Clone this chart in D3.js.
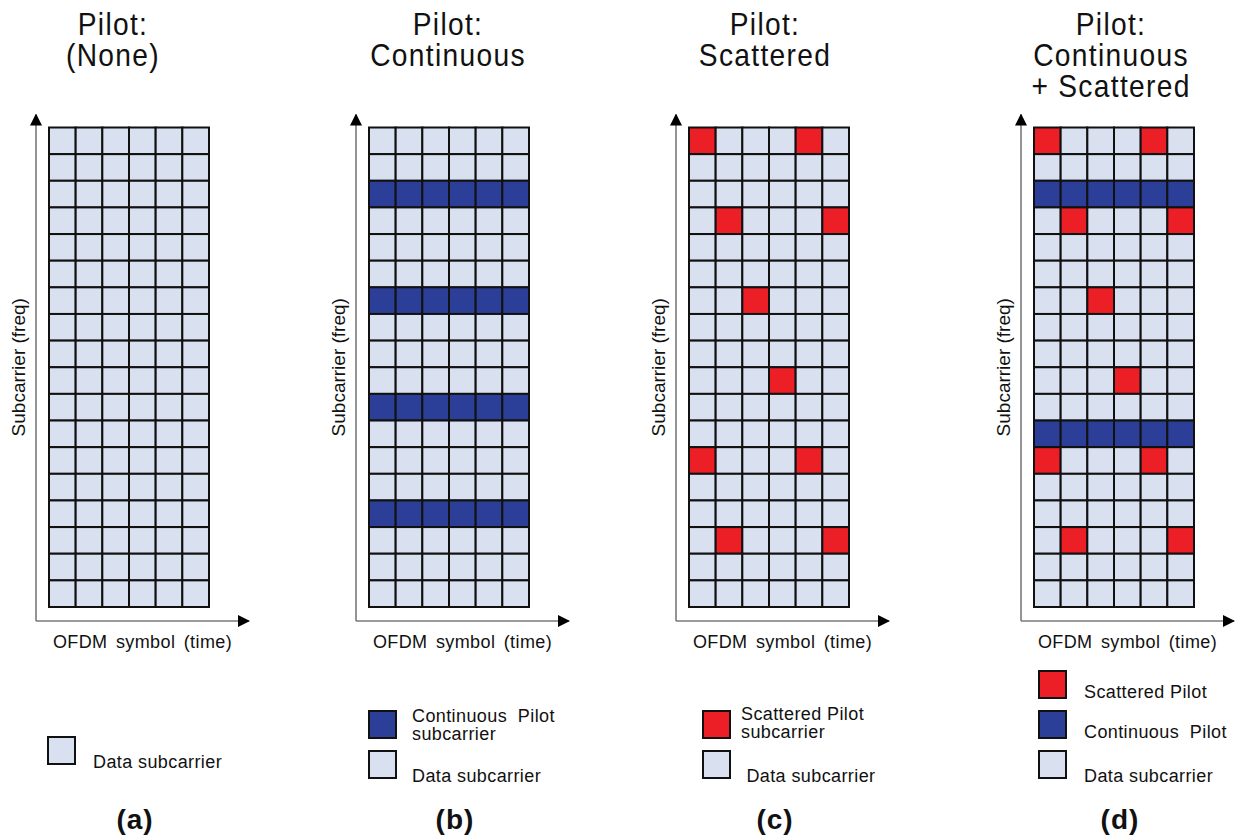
<!DOCTYPE html>
<html>
<head>
<meta charset="utf-8">
<script src="https://cdn.jsdelivr.net/npm/d3@7"></script>
<style>
  body { margin: 0; background: #fff; }
  text { font-family: "Liberation Sans", Arial, sans-serif; fill: #111; }
  .title { font-size: 32px; letter-spacing: 1.5px; }
  .xlab { font-size: 18px; letter-spacing: 0.4px; word-spacing: 3px; }
  .ylab { font-size: 19px; }
  .leg { font-size: 18px; letter-spacing: 0.4px; }
  .panelLab { font-size: 28px; font-weight: bold; letter-spacing: 1px; }
</style>
</head>
<body>
<div id="chart"></div>
<script>
// grid categories
const symbols = [0, 1, 2, 3, 4, 5];                       // OFDM symbols (columns)
const subcarriers = [0, 1, 2, 3, 4, 5, 6, 7, 8, 9, 10, 11, 12, 13, 14, 15, 16, 17]; // rows, top to bottom

// pilot patterns
const continuousRowsB = [2, 6, 10, 14];
const continuousRowsD = [2, 11];
const scatteredRows = [0, 0, 3, 3, 6, 9, 12, 12, 15, 15];
const scatteredCols = [0, 4, 1, 5, 2, 3, 0, 4, 1, 5];

// text
const panelTitles = [
    ['Pilot:', '(None)'],
    ['Pilot:', 'Continuous'],
    ['Pilot:', 'Scattered'],
    ['Pilot:', 'Continuous', '+ Scattered']
];
const panelLabels = ['(a)', '(b)', '(c)', '(d)'];
const xAxisLabel = 'OFDM symbol (time)';
const yAxisLabel = 'Subcarrier (freq)';
const legendItems = [
    [{ kind: 'data', text: ['Data subcarrier'] }],
    [{ kind: 'cont', text: ['Continuous  Pilot', 'subcarrier'] }, { kind: 'data', text: ['Data subcarrier'] }],
    [{ kind: 'scat', text: ['Scattered Pilot', 'subcarrier'] }, { kind: 'data', text: [' Data subcarrier'] }],
    [{ kind: 'scat', text: ['Scattered Pilot'] }, { kind: 'cont', text: ['Continuous  Pilot'] }, { kind: 'data', text: ['Data subcarrier'] }]
];

const colors = { data: '#d9e0ef', cont: '#2c3f98', scat: '#ec1f26' };

// layout (pixels)
const svgWidth = 1235;
const svgHeight = 837;
const gridTop = 127.5;
const gridW = 160;
const gridH = 479.5;
const panelLayout = [
    { gridX: 49, titleX: 113, legX: 48, legTextX: 93, legY: [737], legTextY: [[768]] },
    { gridX: 369, titleX: 448, legX: 369, legTextX: 412, legY: [711, 751], legTextY: [[722, 740], [782]] },
    { gridX: 689, titleX: 765, legX: 703, legTextX: 741, legY: [711, 751], legTextY: [[720, 738], [782]] },
    { gridX: 1034, titleX: 1111, legX: 1039, legTextX: 1084, legY: [671, 711, 751], legTextY: [[698], [738], [782]] }
];

const svg = d3.select('#chart')
    .append('svg')
    .attr('width', svgWidth)
    .attr('height', svgHeight);

const defs = svg.append('defs');
defs.append('marker')
    .attr('id', 'arrow')
    .attr('viewBox', '0 0 12 12')
    .attr('refX', 11)
    .attr('refY', 6)
    .attr('markerWidth', 12)
    .attr('markerHeight', 12)
    .attr('markerUnits', 'userSpaceOnUse')
    .attr('orient', 'auto')
    .append('path')
    .attr('d', 'M0,0 L12,6 L0,12 Z')
    .attr('fill', '#000');

const xScale = d3.scaleBand().domain(symbols).range([0, gridW]);
const yScale = d3.scaleBand().domain(subcarriers).range([0, gridH]);

function cellKind(p, row, col) {
    if (p === 2 || p === 3) {
        for (let i = 0; i < scatteredRows.length; i++) {
            if (scatteredRows[i] === row && scatteredCols[i] === col) return 'scat';
        }
    }
    if (p === 1 && continuousRowsB.includes(row)) return 'cont';
    if (p === 3 && continuousRowsD.includes(row)) return 'cont';
    return 'data';
}

panelLayout.forEach((lay, p) => {
    const g = svg.append('g');

    // title, squeezed a bit to look like a condensed face
    const title = g.append('g')
        .attr('transform', `translate(${lay.titleX}, 0) scale(0.88, 1)`)
        .append('text')
        .attr('class', 'title')
        .attr('text-anchor', 'middle');
    panelTitles[p].forEach((line, i) => {
        title.append('tspan')
            .attr('x', 0)
            .attr('y', 35 + i * 31)
            .text(line);
    });

    // grid cells
    const cells = [];
    subcarriers.forEach(r => symbols.forEach(c => cells.push({ row: r, col: c, kind: cellKind(p, r, c) })));

    const grid = g.append('g').attr('transform', `translate(${lay.gridX}, ${gridTop})`);
    grid.selectAll('rect.cell')
        .data(cells)
        .enter()
        .append('rect')
        .attr('class', 'cell')
        .attr('x', d => xScale(d.col))
        .attr('y', d => yScale(d.row))
        .attr('width', xScale.bandwidth())
        .attr('height', yScale.bandwidth())
        .attr('fill', d => colors[d.kind])
        .attr('stroke', '#111')
        .attr('stroke-width', 2);

    // axes with arrows
    const axX = lay.gridX - 13;
    const axY = gridTop + gridH + 14;
    g.append('line')
        .attr('x1', axX).attr('y1', axY)
        .attr('x2', axX).attr('y2', gridTop - 13)
        .attr('stroke', '#7a7a7a').attr('stroke-width', 1.6)
        .attr('marker-end', 'url(#arrow)');
    g.append('line')
        .attr('x1', axX).attr('y1', axY)
        .attr('x2', lay.gridX + gridW + 40).attr('y2', axY)
        .attr('stroke', '#7a7a7a').attr('stroke-width', 1.6)
        .attr('marker-end', 'url(#arrow)');

    g.append('text')
        .attr('class', 'xlab')
        .attr('x', (axX + lay.gridX + gridW + 40) / 2)
        .attr('y', axY + 27)
        .attr('text-anchor', 'middle')
        .text(xAxisLabel);

    g.append('text')
        .attr('class', 'ylab')
        .attr('transform', `translate(${axX - 11}, ${gridTop + gridH / 2}) rotate(-90)`)
        .attr('text-anchor', 'middle')
        .text(yAxisLabel);

    // legend
    legendItems[p].forEach((item, i) => {
        g.append('rect')
            .attr('x', lay.legX)
            .attr('y', lay.legY[i])
            .attr('width', 27)
            .attr('height', 27)
            .attr('fill', colors[item.kind])
            .attr('stroke', '#111')
            .attr('stroke-width', 2);
        item.text.forEach((line, j) => {
            g.append('text')
                .attr('class', 'leg')
                .attr('x', lay.legTextX)
                .attr('y', lay.legTextY[i][j])
                .style('white-space', 'pre')
                .text(line);
        });
    });

    g.append('text')
        .attr('class', 'panelLab')
        .attr('x', lay.gridX + gridW / 2 + 6)
        .attr('y', 829)
        .attr('text-anchor', 'middle')
        .text(panelLabels[p]);
});
</script>
</body>
</html>
